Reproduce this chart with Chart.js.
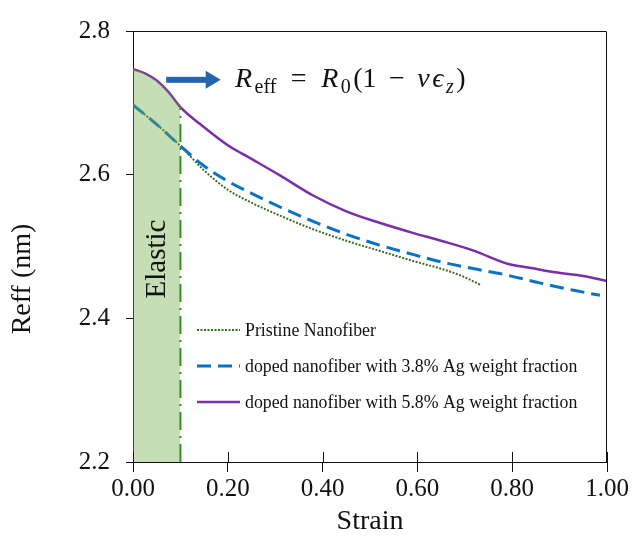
<!DOCTYPE html>
<html>
<head>
<meta charset="utf-8">
<script src="https://cdn.jsdelivr.net/npm/chart.js@4.4.1/dist/chart.umd.min.js"></script>
<style>
  html, body { margin: 0; padding: 0; background: #fff; }
  #wrap { width: 633px; height: 541px; }
</style>
</head>
<body>
<div id="wrap"><canvas id="chart"></canvas></div>
<script>
// Data
const strainPristine = [0.00, 0.05, 0.10, 0.15, 0.20, 0.25, 0.31, 0.38, 0.45, 0.52, 0.59, 0.65, 0.69, 0.735];
const reffPristine   = [2.697, 2.670, 2.640, 2.606, 2.579, 2.561, 2.543, 2.524, 2.508, 2.494, 2.480, 2.469, 2.460, 2.446];

const strainAg38 = [0.00, 0.05, 0.10, 0.15, 0.20, 0.25, 0.31, 0.38, 0.45, 0.52, 0.59, 0.66, 0.72, 0.79, 0.86, 0.93, 0.985];
const reffAg38   = [2.697, 2.670, 2.640, 2.612, 2.591, 2.574, 2.555, 2.535, 2.517, 2.502, 2.489, 2.477, 2.469, 2.460, 2.449, 2.439, 2.432];

const strainAg58 = [0.00, 0.025, 0.05, 0.075, 0.10, 0.15, 0.20, 0.25, 0.31, 0.38, 0.45, 0.52, 0.59, 0.65, 0.72, 0.79, 0.84, 0.89, 0.95, 1.00];
const reffAg58   = [2.747, 2.741, 2.731, 2.715, 2.694, 2.666, 2.641, 2.622, 2.599, 2.571, 2.549, 2.533, 2.519, 2.508, 2.494, 2.476, 2.470, 2.464, 2.459, 2.452];

const elasticLimit = 0.10;
const seriesLabels = [
  'Pristine Nanofiber',
  'doped nanofiber with 3.8% Ag weight fraction',
  'doped nanofiber with 5.8% Ag weight fraction',
];
const xTickLabels = ['0.00', '0.20', '0.40', '0.60', '0.80', '1.00'];
const yTickLabels = ['2.2', '2.4', '2.6', '2.8'];

const toPoints = (xs, ys) => xs.map((x, i) => ({ x: x, y: ys[i] }));
const elasticTop = reffAg58[strainAg58.indexOf(elasticLimit)];

const SERIF = '"Liberation Serif", "Times New Roman", serif';
const INK = '#111';

const decor = {
  id: 'decor',
  afterDraw(chart) {
    const { ctx, chartArea: a, scales: { x, y } } = chart;
    ctx.save();

    // box round the plot
    ctx.strokeStyle = INK;
    ctx.lineWidth = 1;
    ctx.beginPath();
    ctx.moveTo(a.left, a.top + 0.5);
    ctx.lineTo(a.right - 0.5, a.top + 0.5);
    ctx.lineTo(a.right - 0.5, a.bottom);
    ctx.stroke();

    // inner half of the crossing x ticks
    ctx.beginPath();
    x.ticks.forEach(t => {
      const px = Math.round(x.getPixelForValue(t.value)) + 0.5;
      ctx.moveTo(px, a.bottom - 10);
      ctx.lineTo(px, a.bottom);
    });
    ctx.stroke();

    // legend inside the plot
    ctx.font = '17.8px ' + SERIF;
    ctx.textBaseline = 'middle';
    ctx.fillStyle = INK;
    [0, 1, 2].forEach((di, row) => {
      const ds = chart.data.datasets[di];
      const ly = 330 + row * 36;
      ctx.strokeStyle = ds.borderColor;
      ctx.lineWidth = ds.borderWidth;
      ctx.setLineDash(ds.borderDash || []);
      ctx.beginPath();
      ctx.moveTo(197, ly);
      ctx.lineTo(240, ly);
      ctx.stroke();
      ctx.setLineDash([]);
      ctx.fillText(seriesLabels[di], 245, ly + 1);
    });

    // Elastic label
    ctx.save();
    ctx.translate((a.left + x.getPixelForValue(elasticLimit)) / 2 + 1, 259);
    ctx.rotate(-Math.PI / 2);
    ctx.font = '29px ' + SERIF;
    ctx.textAlign = 'center';
    ctx.fillText('Elastic', 0, 0);
    ctx.restore();

    // arrow
    const ax0 = x.getPixelForValue(0.07), ax1 = x.getPixelForValue(0.185);
    const ay = y.getPixelForValue(2.732);
    ctx.fillStyle = '#2463ad';
    ctx.fillRect(ax0, ay - 3, ax1 - ax0 - 13, 6);
    ctx.beginPath();
    ctx.moveTo(ax1 - 15, ay - 9);
    ctx.lineTo(ax1, ay);
    ctx.lineTo(ax1 - 15, ay + 9);
    ctx.closePath();
    ctx.fill();

    // formula R_eff = R_0(1 − νϵ_z)
    const parts = [
      { t: 'R', it: true }, { t: 'eff', sub: true }, { t: '=', gap: 12 },
      { t: 'R', it: true }, { t: '0', sub: true }, { t: '(1' }, { t: '−', gap: 10 },
      { t: 'ν', it: true }, { t: 'ϵ', it: true }, { t: 'z', it: true, sub: true }, { t: ')' },
    ];
    let fx = x.getPixelForValue(0.215);
    const fy = y.getPixelForValue(2.722);
    ctx.fillStyle = INK;
    ctx.textBaseline = 'alphabetic';
    ctx.textAlign = 'left';
    parts.forEach(p => {
      const size = p.sub ? 20 : 28;
      const gap = p.gap || 0;
      ctx.font = (p.it ? 'italic ' : '') + size + 'px ' + SERIF;
      fx += gap;
      ctx.fillText(p.t, fx, fy + (p.sub ? 6 : 0));
      fx += ctx.measureText(p.t).width + gap + 2.5;
    });

    // axis titles
    ctx.font = '28px ' + SERIF;
    ctx.textAlign = 'center';
    ctx.textBaseline = 'middle';
    ctx.fillText('Strain', (a.left + a.right) / 2, 522);
    ctx.save();
    ctx.translate(23, 279);
    ctx.rotate(-Math.PI / 2);
    ctx.fillText('Reff (nm)', 0, 0);
    ctx.restore();

    ctx.restore();
  }
};

new Chart(document.getElementById('chart'), {
  type: 'line',
  data: {
    datasets: [
      {
        label: seriesLabels[0],
        data: toPoints(strainPristine, reffPristine),
        borderColor: '#3b6e22',
        borderWidth: 2,
        borderDash: [2, 1.5],
        pointRadius: 0,
        cubicInterpolationMode: 'monotone',
        fill: false,
        order: 3,
      },
      {
        label: seriesLabels[1],
        data: toPoints(strainAg38, reffAg38),
        borderColor: '#0a72c4',
        borderWidth: 3,
        borderDash: [14, 7],
        pointRadius: 0,
        cubicInterpolationMode: 'monotone',
        fill: false,
        order: 2,
      },
      {
        label: seriesLabels[2],
        data: toPoints(strainAg58, reffAg58),
        borderColor: '#7a2fa8',
        borderWidth: 2.5,
        pointRadius: 0,
        cubicInterpolationMode: 'monotone',
        fill: false,
        order: 1,
      },
      {
        // elastic zone, shaded under the 5.8% curve
        label: 'elastic zone',
        data: toPoints(strainAg58, reffAg58).filter(p => p.x <= elasticLimit),
        borderWidth: 0,
        borderColor: 'rgba(0,0,0,0)',
        backgroundColor: 'rgba(112,173,71,0.4)',
        pointRadius: 0,
        cubicInterpolationMode: 'monotone',
        fill: 'start',
        order: 0,
      },
      {
        label: 'elastic limit',
        data: [{ x: elasticLimit, y: 2.2 }, { x: elasticLimit, y: elasticTop }],
        borderColor: '#2f8a22',
        borderWidth: 2,
        borderDash: [18, 6, 2, 6],
        pointRadius: 0,
        fill: false,
        order: 0,
      },
    ],
  },
  options: {
    responsive: true,
    maintainAspectRatio: false,
    animation: false,
    layout: { padding: { top: 23, right: 26, left: 0, bottom: 0 } },
    plugins: {
      legend: { display: false },
      tooltip: { enabled: false },
    },
    scales: {
      x: {
        type: 'linear',
        min: 0,
        max: 1,
        afterFit: (s) => { s.height = 79; },
        border: { display: true, color: INK, width: 1 },
        grid: { drawOnChartArea: false, drawTicks: true, tickLength: 10, color: INK },
        ticks: {
          stepSize: 0.2,
          padding: 2,
          color: INK,
          font: { family: SERIF, size: 25 },
          maxRotation: 0,
          callback: (v, i) => xTickLabels[i],
        },
      },
      y: {
        type: 'linear',
        min: 2.2,
        max: 2.8,
        afterFit: (s) => { s.width = 133; },
        border: { display: true, color: INK, width: 1 },
        grid: { drawOnChartArea: false, drawTicks: true, tickLength: 7, color: INK },
        ticks: {
          stepSize: 0.2,
          padding: 16,
          color: INK,
          font: { family: SERIF, size: 25 },
          callback: (v, i) => yTickLabels[i],
        },
      },
    },
  },
  plugins: [decor],
});
</script>
</body>
</html>
